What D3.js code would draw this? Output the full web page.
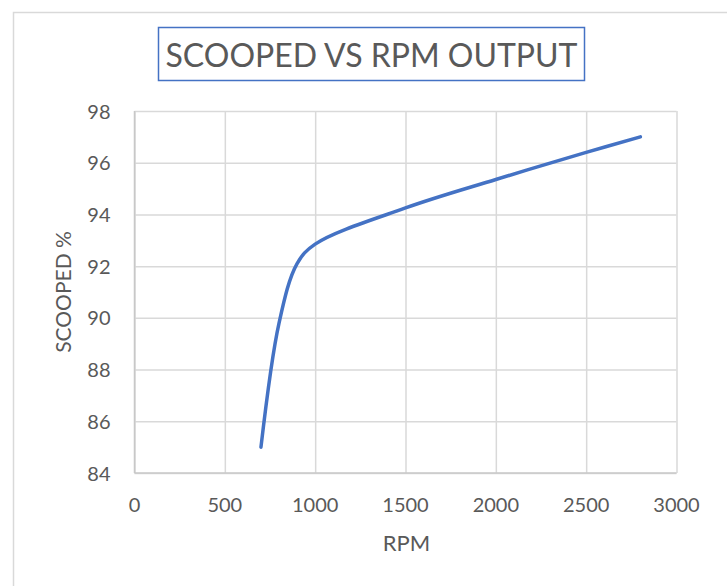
<!DOCTYPE html>
<html><head><meta charset="utf-8">
<script src="https://cdn.jsdelivr.net/npm/d3@7"></script>
<style>body{margin:0;background:#fff;}svg{display:block;}</style>
</head><body>
<svg id="c" width="727" height="586"></svg>
<script>
const rpm =      [700, 800,  900,  1000,  1500,  2000,  2500, 2800];
const scooped =  [85,  89.8, 92.1, 92.85, 94.25, 95.35, 96.4, 97];
const xTicks = [0, 500, 1000, 1500, 2000, 2500, 3000];
const yTicks = [84, 86, 88, 90, 92, 94, 96, 98];
const title = "SCOOPED VS RPM OUTPUT";
const xTitle = "RPM";
const yTitle = "SCOOPED %";

const svg = d3.select("#c");
const font = "Lato, 'Open Sans', sans-serif";
const textCol = "#595959";
const gridCol = "#d9d9d9";
const L = 134.5, R = 676.5, T = 111, B = 473;

svg.append("rect").attr("x", 13.5).attr("y", 12.5).attr("width", 760).attr("height", 620)
  .attr("fill", "#fff").attr("stroke", gridCol).attr("stroke-width", 1.5);

const x = d3.scaleLinear().domain([0, 3000]).range([L, R]);
const y = d3.scaleLinear().domain([84, 98]).range([B, T]);

// grid
const gx = svg.append("g").attr("transform", `translate(0,${B})`)
  .call(d3.axisBottom(x).tickValues(xTicks).tickSize(-(B - T)).tickFormat(""));
const gy = svg.append("g").attr("transform", `translate(${L},0)`)
  .call(d3.axisLeft(y).tickValues(yTicks).tickSize(-(R - L)).tickFormat(""));
[gx, gy].forEach(g => {
  g.select(".domain").remove();
  g.selectAll("line").attr("stroke", gridCol).attr("stroke-width", 1.5);
});
svg.append("line").attr("x1", L).attr("x2", R).attr("y1", B).attr("y2", B)
  .attr("stroke", "#c8c8c8").attr("stroke-width", 1.5);
svg.append("line").attr("x1", L).attr("x2", L).attr("y1", T).attr("y2", B)
  .attr("stroke", "#c8c8c8").attr("stroke-width", 1.5);

// tick labels
svg.append("g").selectAll("text").data(xTicks).join("text")
  .attr("x", d => x(d)).attr("y", 511.5).attr("text-anchor", "middle")
  .attr("font-family", font).attr("font-size", 20).attr("fill", textCol).text(d => d);
svg.append("g").selectAll("text").data(yTicks).join("text")
  .attr("x", 110.5).attr("y", d => y(d) + 7.5).attr("text-anchor", "end")
  .attr("font-family", font).attr("font-size", 20).attr("fill", textCol).text(d => d);

// axis titles
svg.append("text").attr("x", x(1500) + 1).attr("y", 551).attr("text-anchor", "middle")
  .attr("font-family", font).attr("font-size", 22).attr("fill", textCol).text(xTitle);
svg.append("text").attr("transform", `translate(71,${(T + B) / 2}) rotate(-90)`)
  .attr("text-anchor", "middle")
  .attr("font-family", font).attr("font-size", 21).attr("fill", textCol).text(yTitle);

// title
svg.append("rect").attr("x", 158.5).attr("y", 27.5).attr("width", 426).attr("height", 53)
  .attr("fill", "#fff").attr("stroke", "#4472C4").attr("stroke-width", 1.5);
svg.append("text").attr("x", 371.5).attr("y", 66.5).attr("text-anchor", "middle")
  .attr("font-family", font).attr("font-size", 33).attr("fill", textCol)
  .attr("textLength", 412).attr("lengthAdjust", "spacingAndGlyphs").text(title);

// line
const pts = rpm.map((r, i) => [r, scooped[i]]);
svg.append("path").datum(pts)
  .attr("fill", "none").attr("stroke", "#4472C4").attr("stroke-width", 3.5)
  .attr("stroke-linecap", "round").attr("stroke-linejoin", "round")
  .attr("d", d3.line().x(d => x(d[0])).y(d => y(d[1])).curve(d3.curveCatmullRom.alpha(0.5)));
</script>
</body></html>
